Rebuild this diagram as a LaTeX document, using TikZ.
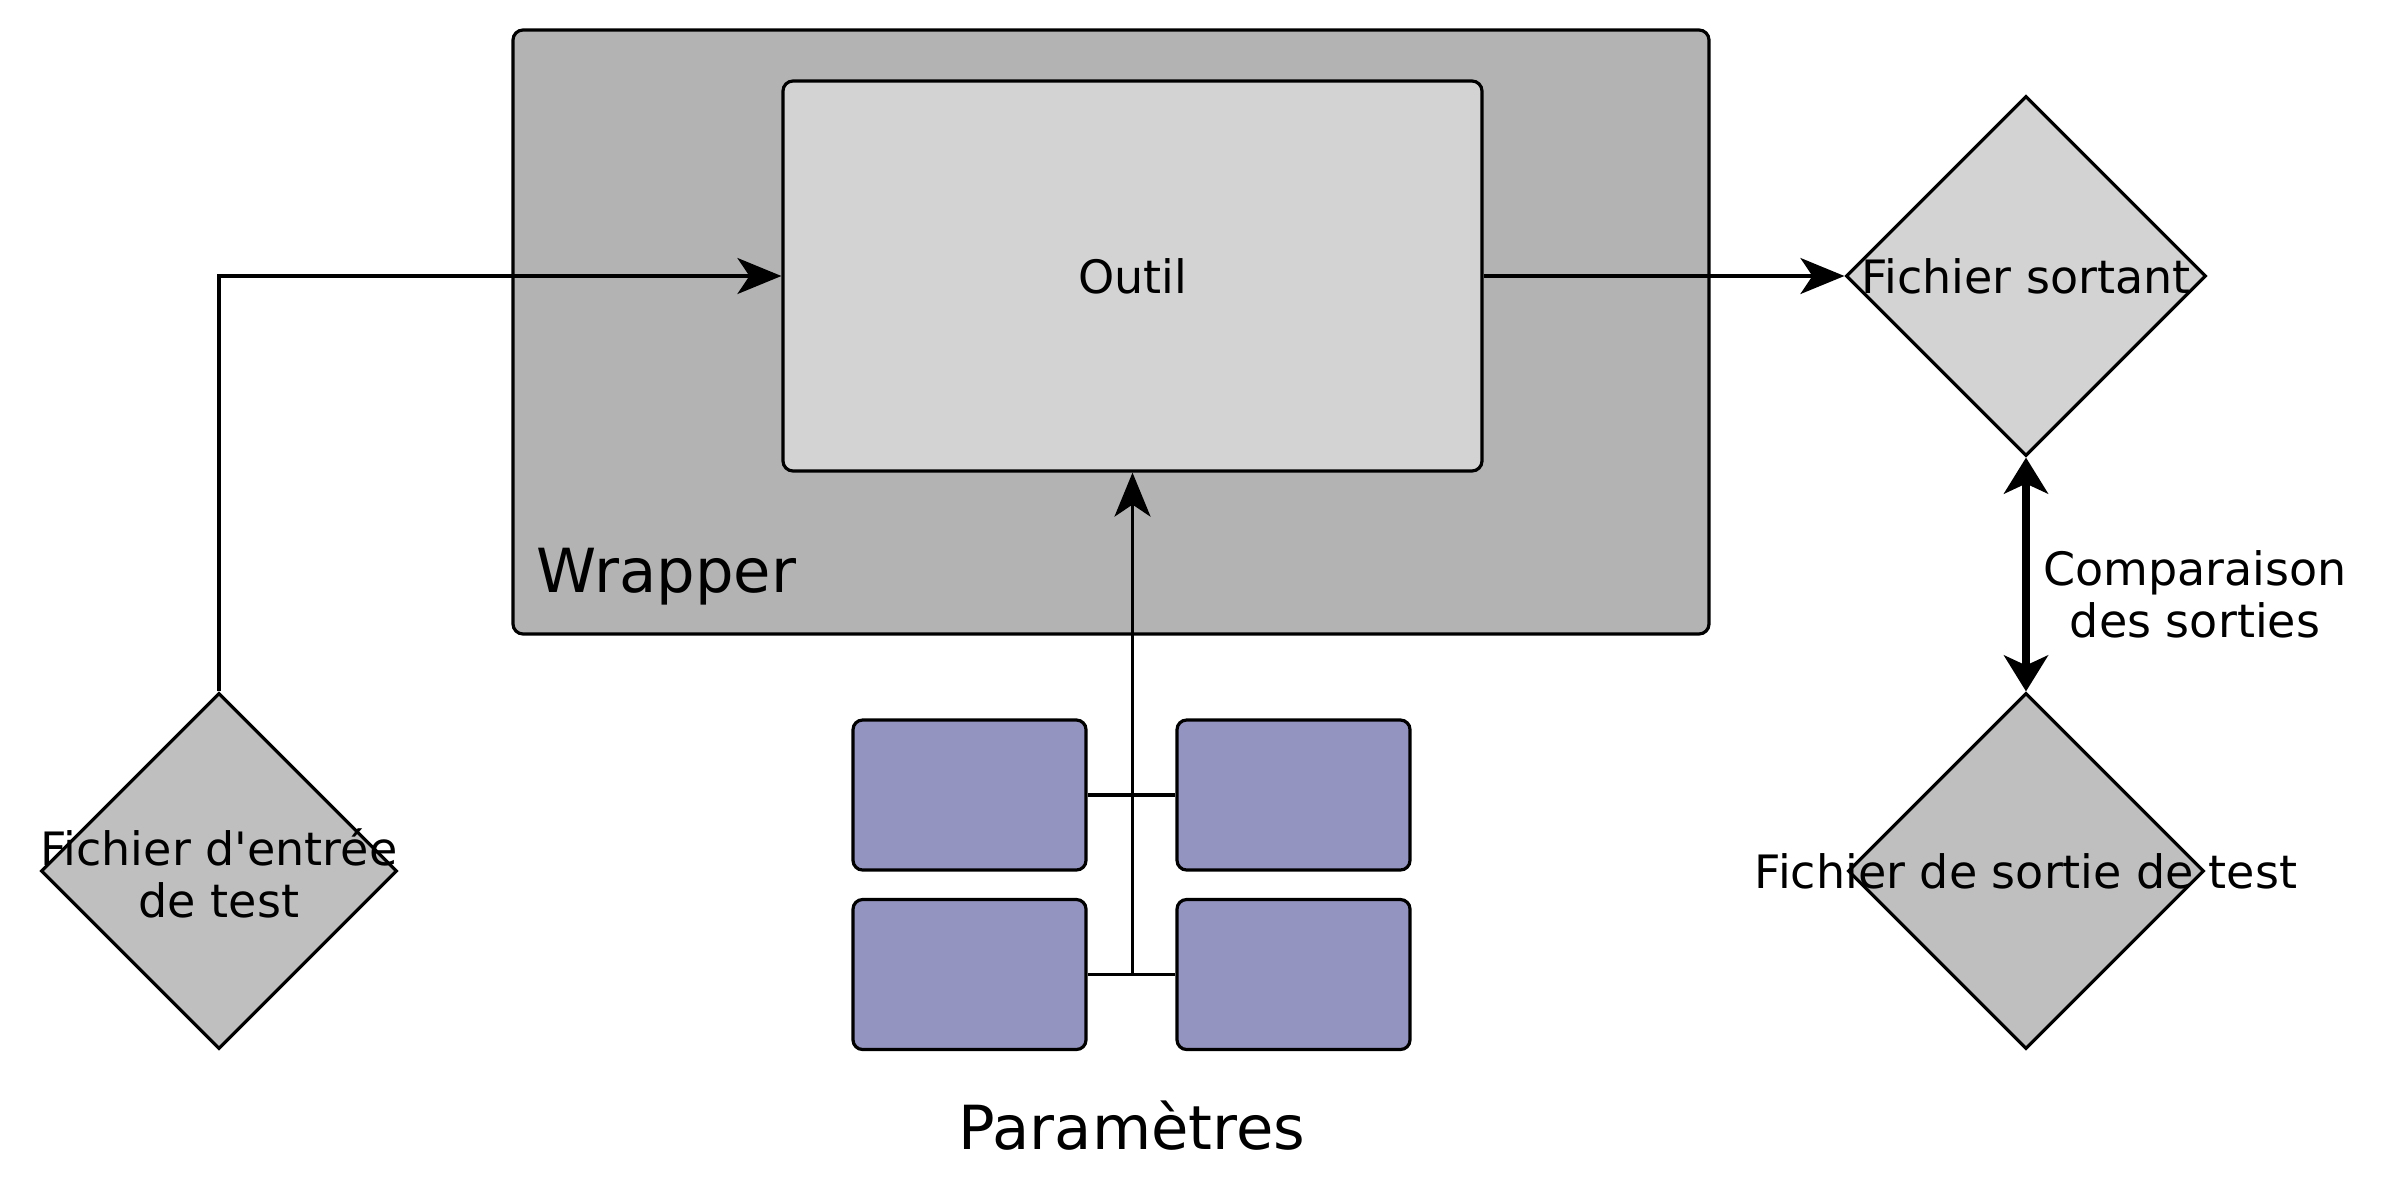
\documentclass[tikz,border=0pt]{standalone}
\usepackage{fontspec}
\setmainfont{DejaVu Sans}
\usetikzlibrary{shapes.geometric,arrows.meta}
\definecolor{wrapgray}{RGB}{179,179,179}
\definecolor{toolgray}{RGB}{211,211,211}
\definecolor{silvergray}{RGB}{191,191,191}
\definecolor{parampurple}{RGB}{148,148,192}
\tikzset{
  box/.style={draw=black, line width=0.8pt, rounded corners=2.5pt, inner sep=0pt},
  paramstyle/.style={box, fill=parampurple, minimum width=58.25pt, minimum height=37.5pt, rounded corners=2.4pt},
  filediamond/.style={draw=black, line width=0.8pt, diamond, inner sep=0pt, minimum width=89pt, minimum height=89pt},
  txt/.style={font=\fontsize{11.5}{13}\selectfont, align=center, inner sep=0pt},
  bigtxt/.style={font=\fontsize{15.2}{18}\selectfont, inner sep=0pt},
  conn/.style={line width=0.8pt},
  arr/.style={conn, -{Stealth[length=11pt,width=9pt,inset=3pt]}},
  bigarr/.style={line width=1.8pt, {Stealth[length=9pt,width=11pt,inset=2.5pt]}-{Stealth[length=9pt,width=11pt,inset=2.5pt]}}
}
\begin{document}
\begin{tikzpicture}[x=0.25pt,y=-0.25pt]
\useasboundingbox (0,0) rectangle (2388,1200);
% wrapper
\node[box, fill=wrapgray, minimum width=299pt, minimum height=151pt] (wrapper) at (1111,332) {};
\node[bigtxt, anchor=west] (wraplabel) at (536,577) {Wrapper};
% outil
\node[box, fill=toolgray, minimum width=174.75pt, minimum height=97.5pt, txt] (outil) at (1132.5,276) {Outil};
% diamonds
\node[filediamond, fill=silvergray] (din) at (219,871) {};
\node[txt] (dinlabel) at (219,873) {Fichier d\textquotesingle entrée\\de test};
\node[filediamond, fill=toolgray, minimum width=90pt, minimum height=90pt] (dsort) at (2026,276) {};
\node[txt] (dsortlabel) at (2026,276) {Fichier sortant};
\node[filediamond, fill=silvergray] (dtest) at (2026,871) {};
\node[txt] (dtestlabel) at (2026,871) {Fichier de sortie de test};
% parameters
\node[paramstyle] (p1) at (969.5,795) {};
\node[paramstyle] (p2) at (1293.5,795) {};
\node[paramstyle] (p3) at (969.5,974.5) {};
\node[paramstyle] (p4) at (1293.5,974.5) {};
\node[bigtxt] (paramlabel) at (1132,1126) {Paramètres};
% connectors
\draw[conn] (p1.east) -- (p2.west);
\draw[conn] (p3.east) -- (p4.west);
\coordinate (bus) at (1132.5,974.5);
\draw[arr] (bus) -- (outil.south);
\draw[arr] (din.north) |- (outil.west);
\draw[arr] (outil.east) -- (dsort.west);
\draw[bigarr] (dsort.south) -- (dtest.north);
\node[txt] (cmp) at (2195,594) {Comparaison\\des sorties};
\end{tikzpicture}
\end{document}
